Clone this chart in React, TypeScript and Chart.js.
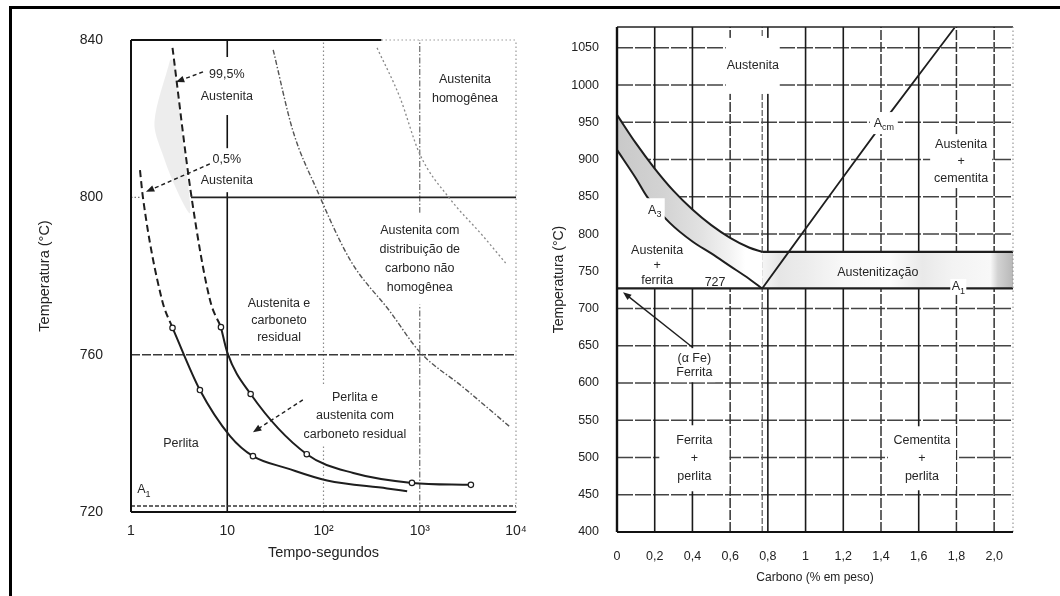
import React, { useEffect, useRef } from "react";
import { Chart, registerables } from "chart.js";

Chart.register(...registerables);

const FONT = "'Liberation Sans', Arial, Helvetica, sans-serif";
const INK = "#1e1e1e";
const TXT = "#262626";

// ---------------- Left chart: tempo x temperatura ----------------
const timeTickValues = [1, 10, 100, 1000, 10000];
const timeTickLabels = ["1", "10", "10²", "10³", "10⁴"];
const leftTempTicks = [720, 760, 800, 840];

const aust995DashTime = [2.7, 4.2, 6.6, 8.6];
const aust995DashTemp = [838, 801, 774, 767];
const aust995Time = [8.6, 10, 17.5, 67, 204, 830, 3400];
const aust995Temp = [767, 760.6, 750, 734.7, 729.9, 727.4, 726.9];
const aust05DashTime = [1.24, 1.33, 2.1, 2.7];
const aust05DashTemp = [806.9, 800, 773.9, 766.8];
const aust05Time = [2.7, 5.2, 10.7, 18.5, 42, 109, 458, 740];
const aust05Temp = [766.8, 751, 739.3, 734.2, 731.1, 728, 726, 725.3];
const carbideTime = [30, 48, 85, 190, 490, 1000, 2800, 8700];
const carbideTemp = [837.5, 817, 802, 784, 771, 760.7, 751.8, 741.6];
const homogTime = [360, 620, 1000, 2000, 4600, 7800];
const homogTemp = [838, 825.5, 811, 800, 790, 783.3];
const a1Time = [1, 10000];
const a1Temp = [721.5, 721.5];
const mark995Time = [8.6, 17.5, 67, 830, 3400];
const mark995Temp = [767, 750, 734.7, 727.4, 726.9];
const mark05Time = [2.7, 5.2, 18.5];
const mark05Temp = [766.8, 751, 734.2];
const shadeTime = [2.55, 1.75, 2.2, 3.1, 4.1, 3.8, 3.2, 2.85];
const shadeTemp = [835, 819, 810, 801, 796, 806, 822, 835];

// ---------------- Right chart: carbono x temperatura ----------------
const carbonTickValues = [0, 0.2, 0.4, 0.6, 0.8, 1, 1.2, 1.4, 1.6, 1.8, 2.0];
const carbonTickLabels = ["0", "0,2", "0,4", "0,6", "0,8", "1", "1,2", "1,4", "1,6", "1,8", "2,0"];
const rightTempTicks = [400, 450, 500, 550, 600, 650, 700, 750, 800, 850, 900, 950, 1000, 1050];

const a3UpperC = [0, 0.1, 0.2, 0.3, 0.4, 0.5, 0.6, 0.7, 0.77];
const a3UpperT = [960, 922, 888, 858, 833, 812, 795, 782, 776];
const a3LowerC = [0, 0.1, 0.16, 0.28, 0.4, 0.5, 0.6, 0.7, 0.77];
const a3LowerT = [913, 875, 850, 815, 790, 774, 757, 740, 727];
const acmC = [0.77, 1.1, 1.45, 1.79];
const acmT = [727, 842, 963, 1077];
const eutectoidC = [0, 2.1];
const eutectoidT = [727, 727];
const topIsoC = [0.77, 2.1];
const topIsoT = [776, 776];

// ---------------- helpers ----------------
type Pt = { x: number; y: number };
const pts = (xs: number[], ys: number[]): Pt[] => xs.map((x, i) => ({ x, y: ys[i] }));

type Rule = { axis: "x" | "y"; v: number; from?: number; to?: number; color: string; width: number; dash?: number[] };
type Note = { x: number; y: number; lines: string[]; sub?: string; lh?: number; bw?: number; bh?: number; cut?: boolean };
type Arrow = { from: [number, number]; to: [number, number]; dash?: number[] };

const leftRules: Rule[] = [
  { axis: "x", v: 10, color: "#111", width: 1.6 },
  { axis: "x", v: 100, color: "#8a8a8a", width: 1.2, dash: [1.5, 2.5] },
  { axis: "x", v: 1000, color: "#6a6a6a", width: 1.2, dash: [6, 2, 1.5, 2] },
  { axis: "y", v: 760, color: "#3a3a3a", width: 1.5, dash: [9, 2] },
  { axis: "y", v: 800, from: 4.2, color: "#222", width: 1.6 },
  { axis: "y", v: 800, to: 1.25, color: "#777", width: 1.2, dash: [1.5, 2] },
];
const leftFrame: Rule[] = [
  { axis: "y", v: 840, to: 400, color: "#111", width: 1.8 },
  { axis: "y", v: 840, from: 400, color: "#999", width: 1.2, dash: [1.5, 2.5] },
  { axis: "x", v: 10000, color: "#999", width: 1.2, dash: [1.5, 2.5] },
  { axis: "x", v: 1, color: "#111", width: 2 },
  { axis: "y", v: 720, color: "#111", width: 2 },
];
const leftNotes: Note[] = [
  { x: 9.9, y: 828.3, lines: ["99,5%", "Austenita"], lh: 22, bw: 56, bh: 58 },
  { x: 9.9, y: 806.9, lines: ["0,5%", "Austenita"], lh: 21, bw: 60, bh: 44 },
  { x: 2950, y: 827.5, lines: ["Austenita", "homogênea"], lh: 19, bw: 78, bh: 46 },
  { x: 1000, y: 784.4, lines: ["Austenita com", "distribuição de", "carbono não", "homogênea"], lh: 19, bw: 84, bh: 92 },
  { x: 34.5, y: 768.8, lines: ["Austenita e", "carboneto", "residual"], lh: 17 },
  { x: 212, y: 744.4, lines: ["Perlita e", "austenita com", "carboneto residual"], lh: 18.5, bw: 118, bh: 60 },
  { x: 3.3, y: 737.5, lines: ["Perlita"] },
  { x: 1.36, y: 725.6, lines: ["A"], sub: "1" },
];
const leftArrows: Arrow[] = [
  { from: [5.6, 831.9], to: [2.93, 829.3], dash: [4, 3] },
  { from: [6.6, 808.5], to: [1.43, 801.4], dash: [4, 3] },
  { from: [61, 748.5], to: [18.5, 740.3], dash: [4, 3] },
];

const rightRules: Rule[] = [
  ...rightTempTicks.filter((t) => t > 400).map((t) => ({ axis: "y" as const, v: t, color: "#444", width: 1.5, dash: [16, 2] })),
  ...[0.2, 0.4, 0.8, 1, 1.2, 1.6].map((c) => ({ axis: "x" as const, v: c, color: "#1a1a1a", width: 1.6 })),
  ...[0.6, 1.4, 1.8, 2.0].map((c) => ({ axis: "x" as const, v: c, color: "#333", width: 1.5, dash: [10, 2] })),
  { axis: "x", v: 0.77, color: "#555", width: 1.2, dash: [6, 2] },
];
const rightFrame: Rule[] = [
  { axis: "y", v: 1078, color: "#222", width: 1.6 },
  { axis: "x", v: 2.1, color: "#999", width: 1.2, dash: [1.5, 2.5] },
  { axis: "x", v: 0, color: "#111", width: 2.4 },
  { axis: "y", v: 400, color: "#111", width: 2 },
];
const rightNotes: Note[] = [
  { x: 0.72, y: 1025.8, lines: ["Austenita"], bw: 54, bh: 56 },
  { x: 1.415, y: 949, lines: ["A"], sub: "cm", bw: 28, bh: 22, cut: true },
  { x: 1.825, y: 898, lines: ["Austenita", "+", "cementita"], lh: 17, bw: 62, bh: 54 },
  { x: 0.2, y: 832, lines: ["A"], sub: "3", bw: 20, bh: 24, cut: true },
  { x: 0.213, y: 758, lines: ["Austenita", "+", "ferrita"], lh: 15 },
  { x: 0.52, y: 735.5, lines: ["727"] },
  { x: 1.383, y: 749, lines: ["Austenitização"] },
  { x: 1.81, y: 729, lines: ["A"], sub: "1", bw: 16, bh: 16, cut: true },
  { x: 0.41, y: 624, lines: ["(α Fe)", "Ferrita"], lh: 14, bw: 42, bh: 34 },
  { x: 0.41, y: 499, lines: ["Ferrita", "+", "perlita"], lh: 18, bw: 70, bh: 66 },
  { x: 1.617, y: 499, lines: ["Cementita", "+", "perlita"], lh: 18, bw: 68, bh: 64 },
];
const rightArrows: Arrow[] = [{ from: [0.4, 648], to: [0.032, 722] }];

function drawRule(chart: any, r: Rule) {
  const { ctx, chartArea: a, scales } = chart;
  const xs = scales.x;
  const ys = scales.y;
  ctx.save();
  ctx.strokeStyle = r.color;
  ctx.lineWidth = r.width;
  ctx.setLineDash(r.dash || []);
  ctx.beginPath();
  if (r.axis === "x") {
    const x = xs.getPixelForValue(r.v);
    const y1 = r.from !== undefined ? ys.getPixelForValue(r.from) : a.bottom;
    const y2 = r.to !== undefined ? ys.getPixelForValue(r.to) : a.top;
    ctx.moveTo(x, y1);
    ctx.lineTo(x, y2);
  } else {
    const y = ys.getPixelForValue(r.v);
    const x1 = r.from !== undefined ? xs.getPixelForValue(r.from) : a.left;
    const x2 = r.to !== undefined ? xs.getPixelForValue(r.to) : a.right;
    ctx.moveTo(x1, y);
    ctx.lineTo(x2, y);
  }
  ctx.stroke();
  ctx.restore();
}

function decorPlugin(rules: Rule[], frame: Rule[], notes: Note[], arrows: Arrow[], size: number) {
  const boxes = (chart: any, cut: boolean) => {
    const { ctx, scales } = chart;
    ctx.save();
    ctx.fillStyle = "#ffffff";
    for (const n of notes) {
      if (!n.bw || !n.bh || !!n.cut !== cut) continue;
      const px = scales.x.getPixelForValue(n.x);
      const py = scales.y.getPixelForValue(n.y);
      ctx.fillRect(px - n.bw / 2, py - n.bh / 2, n.bw, n.bh);
    }
    ctx.restore();
  };
  return {
    id: "decor",
    beforeDatasetsDraw(chart: any) {
      for (const r of rules) drawRule(chart, r);
      boxes(chart, false);
    },
    afterDatasetsDraw(chart: any) {
      const { ctx, scales } = chart;
      boxes(chart, true);
      for (const r of frame) drawRule(chart, r);
      ctx.save();
      ctx.fillStyle = TXT;
      ctx.textBaseline = "middle";
      for (const n of notes) {
        const px = scales.x.getPixelForValue(n.x);
        const py = scales.y.getPixelForValue(n.y);
        const lh = n.lh || size * 1.3;
        const y0 = py - ((n.lines.length - 1) * lh) / 2;
        if (n.sub) {
          ctx.font = `${size}px ${FONT}`;
          const wa = ctx.measureText(n.lines[0]).width;
          ctx.font = `${size * 0.72}px ${FONT}`;
          const ws = ctx.measureText(n.sub).width;
          const left = px - (wa + ws) / 2;
          ctx.textAlign = "left";
          ctx.font = `${size}px ${FONT}`;
          ctx.fillText(n.lines[0], left, py);
          ctx.font = `${size * 0.72}px ${FONT}`;
          ctx.fillText(n.sub, left + wa, py + 4.5);
        } else {
          ctx.textAlign = "center";
          ctx.font = `${size}px ${FONT}`;
          n.lines.forEach((s, i) => ctx.fillText(s, px, y0 + i * lh));
        }
      }
      for (const a of arrows) {
        const x1 = scales.x.getPixelForValue(a.from[0]);
        const y1 = scales.y.getPixelForValue(a.from[1]);
        const x2 = scales.x.getPixelForValue(a.to[0]);
        const y2 = scales.y.getPixelForValue(a.to[1]);
        const ang = Math.atan2(y2 - y1, x2 - x1);
        const hl = 9;
        ctx.strokeStyle = INK;
        ctx.lineWidth = 1.4;
        ctx.setLineDash(a.dash || []);
        ctx.beginPath();
        ctx.moveTo(x1, y1);
        ctx.lineTo(x2 - Math.cos(ang) * hl * 0.7, y2 - Math.sin(ang) * hl * 0.7);
        ctx.stroke();
        ctx.setLineDash([]);
        ctx.fillStyle = INK;
        ctx.beginPath();
        ctx.moveTo(x2, y2);
        ctx.lineTo(x2 - Math.cos(ang - 0.38) * hl, y2 - Math.sin(ang - 0.38) * hl);
        ctx.lineTo(x2 - Math.cos(ang + 0.38) * hl, y2 - Math.sin(ang + 0.38) * hl);
        ctx.closePath();
        ctx.fill();
        ctx.fillStyle = TXT;
      }
      ctx.restore();
    },
  };
}

const curve = (xs: number[], ys: number[], extra: any = {}) => ({
  data: pts(xs, ys),
  borderColor: INK,
  borderWidth: 2,
  pointRadius: 0,
  fill: false,
  tension: 0.4,
  cubicInterpolationMode: "monotone",
  ...extra,
});

const markers = (xs: number[], ys: number[]) => ({
  data: pts(xs, ys),
  showLine: false,
  pointRadius: 2.7,
  pointBackgroundColor: "#ffffff",
  pointBorderColor: INK,
  pointBorderWidth: 1.2,
});

const gradientFill = (from: number, to: number, stops: [number, string][]) => (c: any) => {
  const ch = c.chart;
  const xs = ch.scales && ch.scales.x;
  if (!xs || !ch.chartArea) return stops[0][1];
  const x1 = xs.getPixelForValue(from);
  const x2 = xs.getPixelForValue(to);
  const g = ch.ctx.createLinearGradient(x1, 0, x2, 0);
  for (const [p, col] of stops) g.addColorStop((p - from) / (to - from), col);
  return g;
};

const baseOpts = {
  responsive: false,
  maintainAspectRatio: false,
  animation: false as const,
  devicePixelRatio: 1,
  events: [] as any[],
  plugins: { legend: { display: false }, tooltip: { enabled: false } },
};

function leftConfig(): any {
  return {
    type: "line",
    data: {
      datasets: [
        markers(mark995Time, mark995Temp),
        markers(mark05Time, mark05Temp),
        curve(aust995Time, aust995Temp),
        curve(aust995DashTime, aust995DashTemp, { borderDash: [7, 4] }),
        curve(aust05Time, aust05Temp),
        curve(aust05DashTime, aust05DashTemp, { borderDash: [7, 4] }),
        curve(carbideTime, carbideTemp, { borderColor: "#555", borderWidth: 1.4, borderDash: [5, 2, 1.5, 2] }),
        curve(homogTime, homogTemp, { borderColor: "#8a8a8a", borderWidth: 1.3, borderDash: [2, 2.5] }),
        curve(a1Time, a1Temp, { borderColor: "#333", borderWidth: 1.5, borderDash: [4, 2], tension: 0 }),
        {
          data: pts(shadeTime, shadeTemp),
          borderWidth: 0,
          pointRadius: 0,
          tension: 0.3,
          fill: "shape",
          backgroundColor: "rgba(0,0,0,0.07)",
        },
      ],
    },
    options: {
      ...baseOpts,
      layout: { padding: { left: 0, right: 24, top: 40, bottom: 0 } },
      scales: {
        x: {
          type: "logarithmic",
          min: 1,
          max: 10000,
          afterBuildTicks: (s: any) => {
            s.ticks = timeTickValues.map((v) => ({ value: v }));
          },
          afterFit: (s: any) => {
            s.height = 84;
          },
          grid: { display: false },
          border: { display: false },
          ticks: {
            autoSkip: false,
            maxRotation: 0,
            padding: 3,
            color: "#222",
            font: { family: FONT, size: 14 },
            callback: (_v: any, i: number) => timeTickLabels[i],
          },
          title: {
            display: true,
            text: "Tempo-segundos",
            color: "#222",
            font: { family: FONT, size: 14.5 },
            padding: { top: 0, bottom: 34 },
          },
        },
        y: {
          type: "linear",
          min: 720,
          max: 840,
          afterBuildTicks: (s: any) => {
            s.ticks = leftTempTicks.map((v) => ({ value: v }));
          },
          afterFit: (s: any) => {
            s.width = 131;
          },
          grid: { display: false },
          border: { display: false },
          ticks: {
            padding: 20,
            color: "#222",
            font: { family: FONT, size: 14 },
            callback: (v: any) => String(v),
          },
          title: {
            display: true,
            text: "Temperatura (°C)",
            color: "#222",
            font: { family: FONT, size: 14.5 },
            padding: { top: 36, bottom: 0 },
          },
        },
      },
    },
    plugins: [decorPlugin(leftRules, leftFrame, leftNotes, leftArrows, 12.5)],
  };
}

function rightConfig(): any {
  const bandPoly = [
    ...a3UpperC.map((c, i) => ({ x: c, y: a3UpperT[i] })),
    ...a3LowerC.map((c, i) => ({ x: c, y: a3LowerT[i] })).reverse(),
  ];
  const alphaGamma = [
    ...a3LowerC.map((c, i) => ({ x: c, y: a3LowerT[i] })),
    { x: 0.77, y: eutectoidT[0] },
    { x: 0, y: eutectoidT[0] },
  ];
  const austBand = [
    { x: topIsoC[0], y: topIsoT[0] },
    { x: topIsoC[1], y: topIsoT[1] },
    { x: eutectoidC[1], y: eutectoidT[1] },
    { x: topIsoC[0], y: eutectoidT[0] },
  ];
  return {
    type: "line",
    data: {
      datasets: [
        curve(acmC, acmT, { borderWidth: 1.8 }),
        curve(a3UpperC, a3UpperT, { borderWidth: 2 }),
        curve(a3LowerC, a3LowerT, { borderWidth: 2 }),
        curve(topIsoC, topIsoT, { borderWidth: 2.2, tension: 0 }),
        curve(eutectoidC, eutectoidT, { borderWidth: 2.2, tension: 0 }),
        {
          data: austBand,
          borderWidth: 0,
          pointRadius: 0,
          tension: 0,
          fill: "shape",
          backgroundColor: gradientFill(0.77, 2.1, [
            [0.77, "#f6f6f6"],
            [0.86, "#e6e6e6"],
            [1.0, "#ececec"],
            [1.2, "#f8f8f8"],
            [1.45, "#fcfcfc"],
            [1.62, "#e9e9e9"],
            [1.78, "#f3f3f3"],
            [1.98, "#f8f8f8"],
            [2.02, "#d2d2d2"],
            [2.1, "#b8b8b8"],
          ]),
        },
        {
          data: alphaGamma,
          borderWidth: 0,
          pointRadius: 0,
          tension: 0,
          fill: "shape",
          backgroundColor: "#ffffff",
        },
        {
          data: bandPoly,
          borderWidth: 0,
          pointRadius: 0,
          tension: 0,
          fill: "shape",
          backgroundColor: gradientFill(0, 0.77, [
            [0, "#c9c9c9"],
            [0.25, "#d3d3d3"],
            [0.45, "#e2e2e2"],
            [0.6, "#f3f3f3"],
            [0.68, "#ffffff"],
            [0.77, "#ffffff"],
          ]),
        },
      ],
    },
    options: {
      ...baseOpts,
      layout: { padding: { left: 0, right: 47, top: 27, bottom: 0 } },
      scales: {
        x: {
          type: "linear",
          min: 0,
          max: 2.1,
          afterBuildTicks: (s: any) => {
            s.ticks = carbonTickValues.map((v) => ({ value: v }));
          },
          afterFit: (s: any) => {
            s.height = 64;
          },
          grid: { display: false },
          border: { display: false },
          ticks: {
            autoSkip: false,
            maxRotation: 0,
            padding: 9,
            color: "#222",
            font: { family: FONT, size: 12.5 },
            callback: (_v: any, i: number) => carbonTickLabels[i],
          },
          title: {
            display: true,
            text: "Carbono (% em peso)",
            color: "#222",
            font: { family: FONT, size: 12 },
            padding: { top: 0, bottom: 11 },
          },
        },
        y: {
          type: "linear",
          min: 400,
          max: 1078,
          afterBuildTicks: (s: any) => {
            s.ticks = rightTempTicks.map((v) => ({ value: v }));
          },
          afterFit: (s: any) => {
            s.width = 77;
          },
          grid: { display: false },
          border: { display: false },
          ticks: {
            padding: 10,
            color: "#222",
            font: { family: FONT, size: 12.5 },
            callback: (v: any) => String(v),
          },
          title: {
            display: true,
            text: "Temperatura (°C)",
            color: "#222",
            font: { family: FONT, size: 14 },
            padding: { top: 11, bottom: 0 },
          },
        },
      },
    },
    plugins: [decorPlugin(rightRules, rightFrame, rightNotes, rightArrows, 12.5)],
  };
}

function ChartCanvas({ make, left, width }: { make: () => any; left: number; width: number }) {
  const ref = useRef<HTMLCanvasElement | null>(null);
  useEffect(() => {
    if (!ref.current) return;
    const chart = new Chart(ref.current, make());
    return () => chart.destroy();
  }, [make]);
  return (
    <canvas
      ref={ref}
      width={width}
      height={596}
      style={{ position: "absolute", left, top: 0, width, height: 596 }}
    />
  );
}

export default function App() {
  return (
    <div
      style={{
        position: "absolute",
        left: 0,
        top: 0,
        width: 1060,
        height: 596,
        background: "#ffffff",
        overflow: "hidden",
      }}
    >
      <div
        style={{
          position: "absolute",
          left: 9,
          top: 6,
          width: 1070,
          height: 610,
          borderTop: "3px solid #000",
          borderLeft: "3px solid #000",
          boxSizing: "border-box",
        }}
      />
      <ChartCanvas make={leftConfig} left={0} width={540} />
      <ChartCanvas make={rightConfig} left={540} width={520} />
    </div>
  );
}
